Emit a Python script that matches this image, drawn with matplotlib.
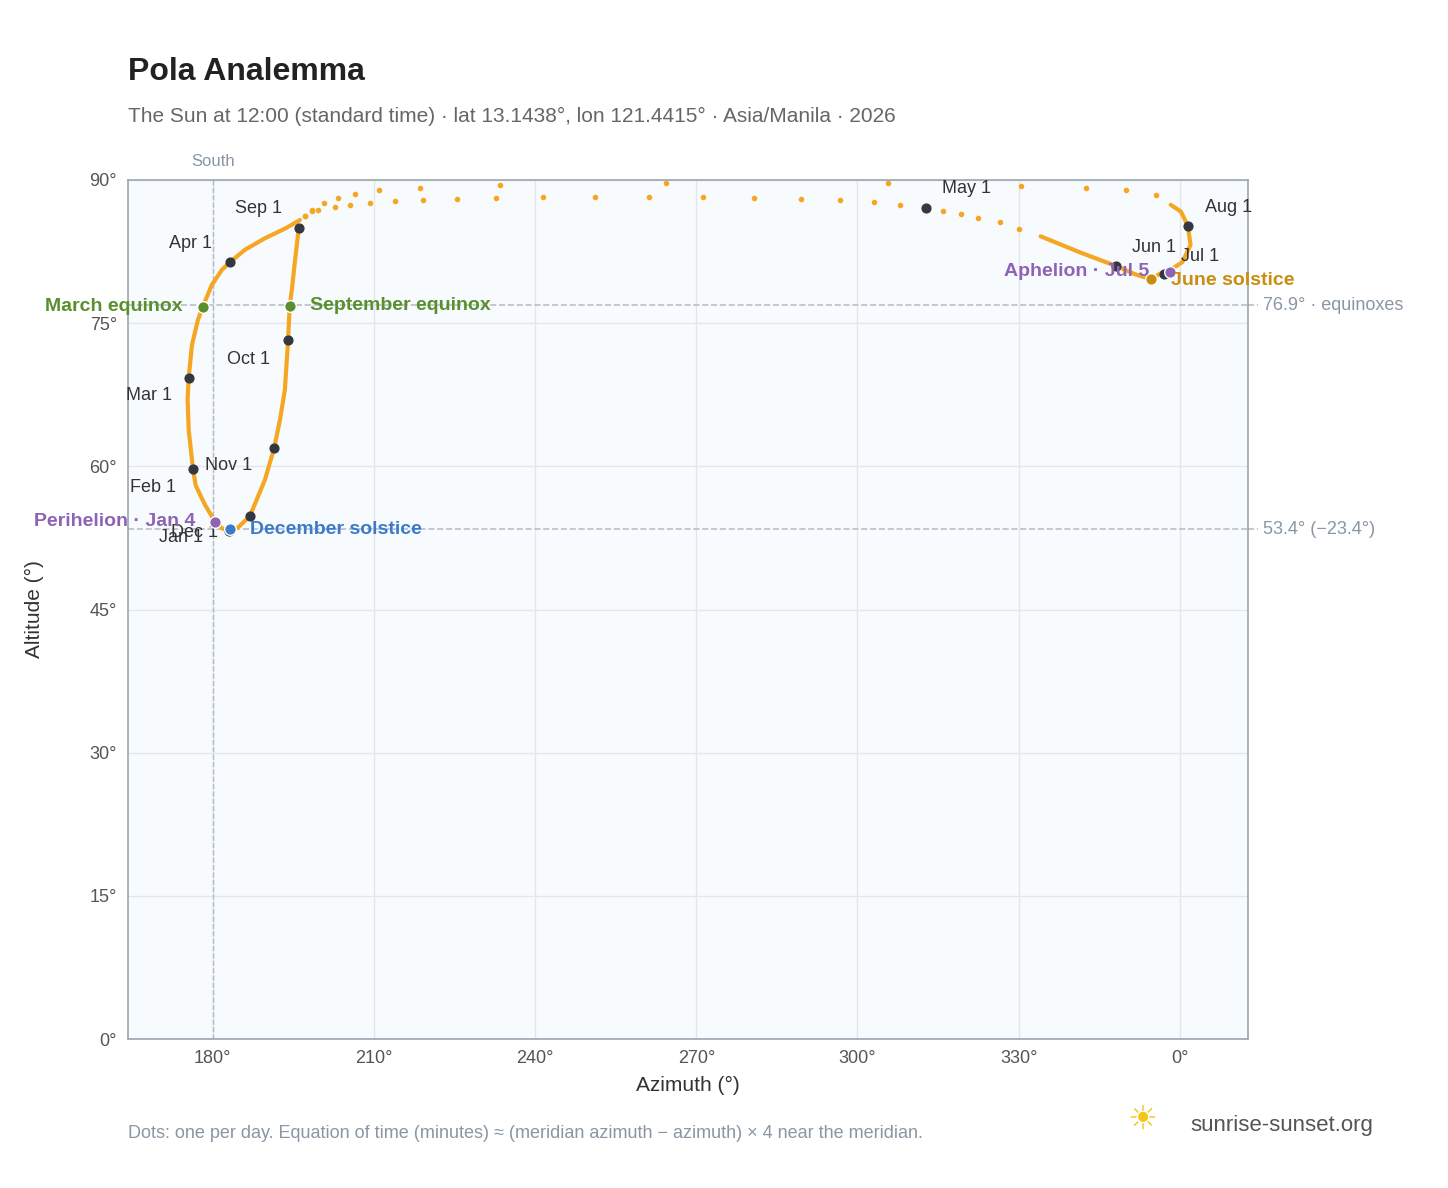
import matplotlib
matplotlib.use("Agg")
import matplotlib.pyplot as plt

plt.rcParams['font.family'] = ['Liberation Sans', 'DejaVu Sans']

# main winter loop (Sep 1 -> Dec -> Apr), dense daily dots form a line
loop_az = [196.0,195.3,194.7,194.3,194.0,193.4,192.5,191.4,189.7,186.9,184.7,183.2,181.7,180.4,178.5,176.8,176.3,175.5,175.3,175.5,176.1,177.2,178.1,179.8,181.7,183.2,186.0,189.7,193.4,196.2]
loop_alt = [85.0,81.6,78.5,76.8,73.2,68.0,64.9,61.9,58.6,54.8,53.6,53.3,53.5,54.2,56.0,58.0,59.7,63.8,67.0,69.3,72.7,75.3,76.7,79.0,80.6,81.4,82.7,83.9,84.9,85.8]
# summer loop (mid May -> Jun -> Aug 1)
sum_az = [334.1,341.5,348.1,351.8,354.6,356.4,358.3,360.5,362.0,361.5,360.2,358.3]
sum_alt = [84.1,82.4,81.0,80.1,79.6,80.2,80.6,81.4,83.2,85.2,86.7,87.4]
# sparse dots near the zenith (April, May and August)
spr_az = [197.1,198.4,199.6,202.7,205.5,209.3,213.9,219.1,225.5,232.7,241.5,251.2,261.2,271.3,280.8,289.4,296.8,303.0,308.0,316.0,319.2,322.5,326.6,330.0]
spr_alt = [86.2,86.7,86.9,87.2,87.4,87.6,87.8,87.9,88.0,88.1,88.2,88.2,88.2,88.2,88.1,88.0,87.9,87.7,87.4,86.8,86.4,86.0,85.6,84.9]
aut_az = [355.5,350.0,342.5,330.4,305.6,264.4,233.5,218.6,210.9,206.5,203.3,200.7,198.4,197.1]
aut_alt = [88.4,88.9,89.2,89.4,89.7,89.7,89.5,89.2,89.0,88.5,88.1,87.6,86.9,86.2]

months = ["Jan 1","Feb 1","Mar 1","Apr 1","May 1","Jun 1","Jul 1","Aug 1","Sep 1","Oct 1","Nov 1","Dec 1"]
m_az = [183.0,176.3,175.5,183.2,312.8,348.1,357.0,361.5,196.0,194.0,191.4,186.9]
m_alt = [53.2,59.7,69.3,81.4,87.1,81.0,80.1,85.2,85.0,73.2,61.9,54.8]

orange = "#f5a623"
fig = plt.figure(figsize=(14.48,11.88), dpi=100)
ax = fig.add_axes([128/1448, 1-1039/1188, 1120/1448, 859/1188])
ax.set_facecolor("#f8fbfe")
ax.set_xlim(164.2, 372.7); ax.set_ylim(0, 90)
ax.set_xticks([180,210,240,270,300,330,360])
ax.set_xticklabels(["180°","210°","240°","270°","300°","330°","0°"])
ax.set_yticks(range(0,91,15)); ax.set_yticklabels([f"{v}°" for v in range(0,91,15)])
ax.grid(color="#e3e7ec", lw=1); ax.set_axisbelow(True)
for s in ax.spines.values(): s.set_color("#9aa5b1"); s.set_linewidth(1.2)
ax.tick_params(colors="#555", labelsize=13, length=0, pad=8)
ax.set_xlabel("Azimuth (°)", fontsize=15, color="#333")
ax.set_ylabel("Altitude (°)", fontsize=15, color="#333")
ax.yaxis.set_label_coords(-0.075, 0.5)
ax.xaxis.set_label_coords(0.5, -0.043)

ax.axvline(180, color="#b0bac5", ls="--", lw=1)
ax.text(180, 91.2, "South", ha="center", va="bottom", color="#8a96a3", fontsize=12)
for y, lab in [(76.9, "76.9° · equinoxes"), (53.4, "53.4° (−23.4°)")]:
    ax.axhline(y, color="#b8c0c9", ls="--", lw=1.2)
    ax.plot([372.7, 374.5], [y, y], color="#b8c0c9", ls="--", lw=1.2, clip_on=False)
    ax.text(375.5, y, lab, va="center", color="#8a96a3", fontsize=13, clip_on=False)

ax.plot(loop_az, loop_alt, color=orange, lw=3, solid_capstyle="round", zorder=3)
ax.plot(sum_az, sum_alt, color=orange, lw=3, solid_capstyle="round", zorder=3)
ax.scatter(spr_az+aut_az, spr_alt+aut_alt, s=9, color=orange, zorder=3)

ax.scatter(m_az, m_alt, s=40, color="#333740", zorder=5)
offs = {"Jan 1":(-26,-6,"right"),"Feb 1":(-17,-18,"right"),"Mar 1":(-17,-18,"right"),
        "Apr 1":(-18,19,"right"),"May 1":(16,19,"left"),"Jun 1":(16,18,"left"),
        "Jul 1":(17,18,"left"),"Aug 1":(17,18,"left"),"Sep 1":(-17,19,"right"),
        "Oct 1":(-18,-19,"right"),"Nov 1":(-69,-17,"left"),"Dec 1":(-32,-17,"right")}
for lab, x, y in zip(months, m_az, m_alt):
    dx, dy, ha = offs[lab]
    ax.annotate(lab, (x, y), xytext=(dx*0.72, dy*0.72), textcoords="offset points", fontsize=13,
                color="#333", va="center", ha=ha, zorder=6)
specials = [
    (178.1, 76.7, "#5a8f2e", "March equinox", "right", -20, 0),
    (194.3, 76.8, "#5a8f2e", "September equinox", "left", 20, 0),
    (183.2, 53.4, "#3b7bc8", "December solstice", "left", 20, 0),
    (354.6, 79.6, "#c98d0f", "June solstice", "left", 20, -1),
    (180.4, 54.2, "#8e63b5", "Perihelion · Jan 4", "right", -20, 0),
    (358.1, 80.4, "#8e63b5", "Aphelion · Jul 5", "right", -20, 0),
]
for x, y, c, lab, ha, dx, dy in specials:
    ax.scatter([x], [y], s=70, color=c, edgecolor="white", lw=1, zorder=7)
    ax.annotate(lab, (x, y), xytext=(dx*0.72, dy*0.72), textcoords="offset points", ha=ha,
                va="center", color=c, fontsize=14, fontweight="bold", zorder=8)

fig.text(128/1448, 1-72/1188, "Pola Analemma", fontsize=23, fontweight="bold", color="#222", va="center")
fig.text(128/1448, 1-116/1188, "The Sun at 12:00 (standard time) · lat 13.1438°, lon 121.4415° · Asia/Manila · 2026",
         fontsize=15, color="#666", va="center")
fig.text(128/1448, 1-1133/1188, "Dots: one per day. Equation of time (minutes) ≈ (meridian azimuth − azimuth) × 4 near the meridian.",
         fontsize=13, color="#8a96a3", va="center")
fig.text(1190/1448, 1-1125/1188, "sunrise-sunset.org", fontsize=16, color="#555", va="center")
fig.text(1142/1448, 1-1120/1188, "☀", fontsize=24, color="#f5c518", va="center", ha="center",
         family="DejaVu Sans")
fig.savefig("out.png", dpi=100)
